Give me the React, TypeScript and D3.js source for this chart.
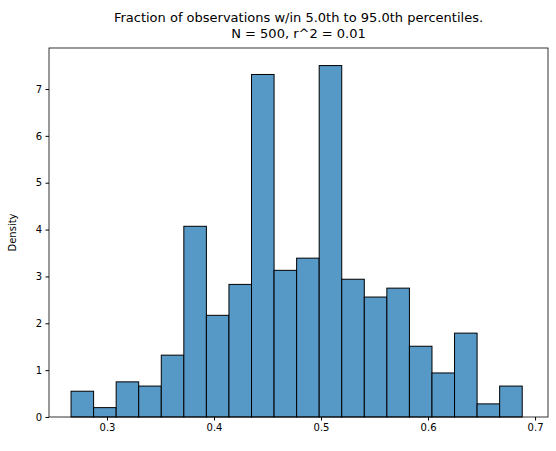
import { useEffect, useRef } from 'react';
import * as d3 from 'd3';

const binStart = 0.2664;
const binWidth = 0.02108;
const densities = [0.55, 0.2, 0.75, 0.66, 1.32, 4.07, 2.17, 2.83, 7.31, 3.13, 3.39, 7.5, 2.94, 2.56, 2.75, 1.51, 0.94, 1.79, 0.28, 0.66];
const xTicks = [0.3, 0.4, 0.5, 0.6, 0.7];
const yTicks = [0, 1, 2, 3, 4, 5, 6, 7];
const titleLines = ['Fraction of observations w/in 5.0th to 95.0th percentiles.', 'N = 500, r^2 = 0.01'];

export default function App() {
  const svgRef = useRef<SVGSVGElement>(null);

  useEffect(() => {
    if (!svgRef.current) return;
    const svg = d3.select(svgRef.current);
    svg.selectAll('*').remove();

    const margin = { top: 48, right: 8, bottom: 34, left: 49 };
    const width = 556 - margin.left - margin.right;
    const height = 451 - margin.top - margin.bottom;

    const g = svg.append('g').attr('transform', `translate(${margin.left},${margin.top})`);

    const x = d3.scaleLinear().domain([0.2458, 0.7121]).range([0, width]);
    const y = d3.scaleLinear().domain([0, 7.875]).range([height, 0]);

    g.selectAll('.bar')
      .data(densities)
      .enter()
      .append('rect')
      .attr('x', (_, i) => x(binStart + i * binWidth))
      .attr('y', (d) => y(d))
      .attr('width', x(binStart + binWidth) - x(binStart))
      .attr('height', (d) => height - y(d))
      .attr('fill', '#5698c6')
      .attr('stroke', '#000')
      .attr('stroke-width', 1);

    const xAxis = g.append('g').attr('transform', `translate(0,${height})`)
      .call(d3.axisBottom(x).tickValues(xTicks).tickFormat(d3.format('.1f')).tickSize(3.5).tickPadding(3.5));
    const yAxis = g.append('g')
      .call(d3.axisLeft(y).tickValues(yTicks).tickFormat(d3.format('d')).tickSize(3.5).tickPadding(3.5));
    [xAxis, yAxis].forEach((a) => {
      a.selectAll('text').attr('font-size', 10).attr('font-family', 'DejaVu Sans').attr('fill', '#000');
      a.selectAll('line').attr('stroke', '#000');
      a.select('.domain').remove();
    });

    g.append('rect').attr('width', width).attr('height', height)
      .attr('fill', 'none').attr('stroke', '#000').attr('stroke-width', 0.8);

    g.append('text')
      .attr('transform', `translate(-33,${height / 2}) rotate(-90)`)
      .attr('text-anchor', 'middle')
      .attr('font-size', 10)
      .attr('font-family', 'DejaVu Sans')
      .text('Density');

    titleLines.forEach((t, i) => {
      svg.append('text')
        .attr('x', margin.left + width / 2)
        .attr('y', 22 + i * 16)
        .attr('text-anchor', 'middle')
        .attr('font-size', 13)
        .attr('font-family', 'DejaVu Sans')
        .text(t);
    });
  }, []);

  return <svg ref={svgRef} width={556} height={451} style={{ position: 'absolute', left: 0, top: 0, background: '#fff' }} />;
}
